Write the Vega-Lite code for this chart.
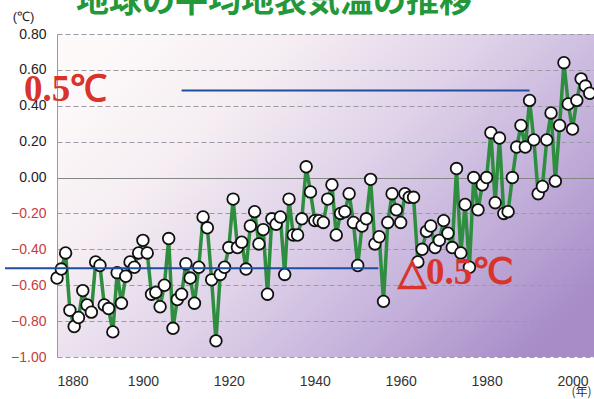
{
  "$schema": "https://vega.github.io/schema/vega-lite/v6.json",
  "width": 537,
  "height": 323,
  "autosize": "none",
  "padding": {"left": 57, "top": 34, "right": 0, "bottom": 42},
  "background": "white",
  "config": {
    "font": "Liberation Sans",
    "view": {
      "stroke": null,
      "fill": {
        "gradient": "linear",
        "x1": 0, "y1": 0.2, "x2": 1, "y2": 0.8,
        "stops": [
          {"offset": 0, "color": "#fdf9f9"},
          {"offset": 0.25, "color": "#f5edf2"},
          {"offset": 0.5, "color": "#dfd2e9"},
          {"offset": 0.75, "color": "#c4b1db"},
          {"offset": 1, "color": "#a78cc7"}
        ]
      }
    }
  },
  "datasets": {
    "temps": [
      {"year": 1880, "anomaly": -0.56}, {"year": 1881, "anomaly": -0.51}, {"year": 1882, "anomaly": -0.42},
      {"year": 1883, "anomaly": -0.74}, {"year": 1884, "anomaly": -0.83}, {"year": 1885, "anomaly": -0.78},
      {"year": 1886, "anomaly": -0.63}, {"year": 1887, "anomaly": -0.71}, {"year": 1888, "anomaly": -0.75},
      {"year": 1889, "anomaly": -0.47}, {"year": 1890, "anomaly": -0.49}, {"year": 1891, "anomaly": -0.71},
      {"year": 1892, "anomaly": -0.73}, {"year": 1893, "anomaly": -0.86}, {"year": 1894, "anomaly": -0.53},
      {"year": 1895, "anomaly": -0.70}, {"year": 1896, "anomaly": -0.55}, {"year": 1897, "anomaly": -0.47},
      {"year": 1898, "anomaly": -0.50}, {"year": 1899, "anomaly": -0.42}, {"year": 1900, "anomaly": -0.35},
      {"year": 1901, "anomaly": -0.42}, {"year": 1902, "anomaly": -0.65}, {"year": 1903, "anomaly": -0.64},
      {"year": 1904, "anomaly": -0.72}, {"year": 1905, "anomaly": -0.60}, {"year": 1906, "anomaly": -0.34},
      {"year": 1907, "anomaly": -0.84}, {"year": 1908, "anomaly": -0.68}, {"year": 1909, "anomaly": -0.65},
      {"year": 1910, "anomaly": -0.48}, {"year": 1911, "anomaly": -0.56}, {"year": 1912, "anomaly": -0.70},
      {"year": 1913, "anomaly": -0.50}, {"year": 1914, "anomaly": -0.22}, {"year": 1915, "anomaly": -0.28},
      {"year": 1916, "anomaly": -0.57}, {"year": 1917, "anomaly": -0.91}, {"year": 1918, "anomaly": -0.54},
      {"year": 1919, "anomaly": -0.50}, {"year": 1920, "anomaly": -0.39}, {"year": 1921, "anomaly": -0.12},
      {"year": 1922, "anomaly": -0.39}, {"year": 1923, "anomaly": -0.36}, {"year": 1924, "anomaly": -0.51},
      {"year": 1925, "anomaly": -0.27}, {"year": 1926, "anomaly": -0.19}, {"year": 1927, "anomaly": -0.37},
      {"year": 1928, "anomaly": -0.29}, {"year": 1929, "anomaly": -0.65}, {"year": 1930, "anomaly": -0.23},
      {"year": 1931, "anomaly": -0.26}, {"year": 1932, "anomaly": -0.22}, {"year": 1933, "anomaly": -0.54},
      {"year": 1934, "anomaly": -0.12}, {"year": 1935, "anomaly": -0.32}, {"year": 1936, "anomaly": -0.32},
      {"year": 1937, "anomaly": -0.23}, {"year": 1938, "anomaly": 0.06}, {"year": 1939, "anomaly": -0.08},
      {"year": 1940, "anomaly": -0.24}, {"year": 1941, "anomaly": -0.24}, {"year": 1942, "anomaly": -0.25},
      {"year": 1943, "anomaly": -0.12}, {"year": 1944, "anomaly": -0.04}, {"year": 1945, "anomaly": -0.32},
      {"year": 1946, "anomaly": -0.20}, {"year": 1947, "anomaly": -0.19}, {"year": 1948, "anomaly": -0.09},
      {"year": 1949, "anomaly": -0.25}, {"year": 1950, "anomaly": -0.49}, {"year": 1951, "anomaly": -0.27},
      {"year": 1952, "anomaly": -0.23}, {"year": 1953, "anomaly": -0.01}, {"year": 1954, "anomaly": -0.37},
      {"year": 1955, "anomaly": -0.33}, {"year": 1956, "anomaly": -0.69}, {"year": 1957, "anomaly": -0.25},
      {"year": 1958, "anomaly": -0.09}, {"year": 1959, "anomaly": -0.18}, {"year": 1960, "anomaly": -0.25},
      {"year": 1961, "anomaly": -0.09}, {"year": 1962, "anomaly": -0.11}, {"year": 1963, "anomaly": -0.11},
      {"year": 1964, "anomaly": -0.47}, {"year": 1965, "anomaly": -0.40}, {"year": 1966, "anomaly": -0.30},
      {"year": 1967, "anomaly": -0.27}, {"year": 1968, "anomaly": -0.39}, {"year": 1969, "anomaly": -0.35},
      {"year": 1970, "anomaly": -0.24}, {"year": 1971, "anomaly": -0.31}, {"year": 1972, "anomaly": -0.39},
      {"year": 1973, "anomaly": 0.05}, {"year": 1974, "anomaly": -0.42}, {"year": 1975, "anomaly": -0.15},
      {"year": 1976, "anomaly": -0.50}, {"year": 1977, "anomaly": 0.00}, {"year": 1978, "anomaly": -0.18},
      {"year": 1979, "anomaly": -0.04}, {"year": 1980, "anomaly": 0.00}, {"year": 1981, "anomaly": 0.25},
      {"year": 1982, "anomaly": -0.14}, {"year": 1983, "anomaly": 0.22}, {"year": 1984, "anomaly": -0.20},
      {"year": 1985, "anomaly": -0.19}, {"year": 1986, "anomaly": 0.00}, {"year": 1987, "anomaly": 0.17},
      {"year": 1988, "anomaly": 0.29}, {"year": 1989, "anomaly": 0.17}, {"year": 1990, "anomaly": 0.43},
      {"year": 1991, "anomaly": 0.21}, {"year": 1992, "anomaly": -0.09}, {"year": 1993, "anomaly": -0.05},
      {"year": 1994, "anomaly": 0.21}, {"year": 1995, "anomaly": 0.36}, {"year": 1996, "anomaly": -0.02},
      {"year": 1997, "anomaly": 0.29}, {"year": 1998, "anomaly": 0.64}, {"year": 1999, "anomaly": 0.41},
      {"year": 2000, "anomaly": 0.27}, {"year": 2001, "anomaly": 0.43}, {"year": 2002, "anomaly": 0.55},
      {"year": 2003, "anomaly": 0.51}, {"year": 2004, "anomaly": 0.47}
    ],
    "levels": [
      {"from": 1867.9, "to": 1954.8, "level": -0.505},
      {"from": 1909.0, "to": 1990.0, "level": 0.485}
    ],
    "notes": [
      {"label": "0.5℃", "year": 1872.3, "anomaly": 0.49},
      {"label": "△0.5℃", "year": 1959.4, "anomaly": -0.53}
    ],
    "heading": [
      {"label": "地球の平均地表気温の推移", "year": 1930.5, "anomaly": 0.92}
    ]
  },
  "layer": [
    {
      "data": {"name": "temps"},
      "mark": {"type": "line", "color": "#2e8d3e", "strokeWidth": 3.5},
      "encoding": {
        "x": {
          "field": "year", "type": "quantitative",
          "scale": {"domain": [1880, 2005], "nice": false, "zero": false},
          "axis": {
            "values": [1880, 1900, 1920, 1940, 1960, 1980, 2000], "tickCount": 20,
            "format": "d", "grid": false, "domain": false, "ticks": false,
            "labelOverlap": false, "labelBound": false,
            "labelPadding": 17, "labelFontSize": 14, "labelColor": "#333333",
            "title": "(年)", "titleFontSize": 12, "titleFontWeight": "normal",
            "titleColor": "#333333", "titleX": 524, "titleY": 34,
            "titleAlign": "center", "titleBaseline": "middle",
            "titleFont": "Noto Sans CJK JP"
          }
        },
        "y": {
          "field": "anomaly", "type": "quantitative",
          "scale": {"domain": [-1, 0.8], "nice": false, "zero": false},
          "axis": {
            "values": [-1, -0.8, -0.6, -0.4, -0.2, 0, 0.2, 0.4, 0.6, 0.8], "tickCount": 20,
            "format": ".2f", "ticks": false,
            "labelOverlap": false, "labelBound": false,
            "domain": true, "domainColor": "#9a9a9a", "domainWidth": 1,
            "grid": true, "gridWidth": 1,
            "gridColor": {"condition": {"test": "datum.value === 0", "value": "#858585"}, "value": "#9a9aa6"},
            "gridDash": {"condition": {"test": "datum.value === 0", "value": []}, "value": [5, 3]},
            "labelPadding": 11, "labelFontSize": 14,
            "labelColor": {"condition": {"test": "datum.value < 0", "value": "#c83c3c"}, "value": "#222222"},
            "title": "(℃)", "titleAngle": 0, "titleFontSize": 13, "titleFontWeight": "normal",
            "titleColor": "#222222", "titleX": -34, "titleY": -18,
            "titleAlign": "center", "titleBaseline": "middle"
          }
        }
      }
    },
    {
      "data": {"name": "temps"},
      "mark": {"type": "point", "filled": true, "fill": "white", "stroke": "#111111", "strokeWidth": 1.8, "size": 135, "opacity": 1},
      "encoding": {
        "x": {"field": "year", "type": "quantitative"},
        "y": {"field": "anomaly", "type": "quantitative"}
      }
    },
    {
      "data": {"name": "levels"},
      "mark": {"type": "rule", "color": "#1f4e9e", "strokeWidth": 2},
      "encoding": {
        "x": {"field": "from", "type": "quantitative"},
        "x2": {"field": "to"},
        "y": {"field": "level", "type": "quantitative"}
      }
    },
    {
      "data": {"name": "notes"},
      "mark": {"type": "text", "align": "left", "baseline": "middle",
               "font": "Liberation Serif", "fontWeight": "bold", "fontSize": 37, "color": "#d8342c"},
      "encoding": {
        "x": {"field": "year", "type": "quantitative"},
        "y": {"field": "anomaly", "type": "quantitative"},
        "text": {"field": "label"}
      }
    },
    {
      "data": {"name": "heading"},
      "mark": {"type": "text", "align": "center", "baseline": "alphabetic",
               "font": "Noto Sans CJK JP", "fontWeight": "bold", "fontSize": 33, "color": "#23983a"},
      "encoding": {
        "x": {"field": "year", "type": "quantitative"},
        "y": {"field": "anomaly", "type": "quantitative"},
        "text": {"field": "label"}
      }
    }
  ]
}
